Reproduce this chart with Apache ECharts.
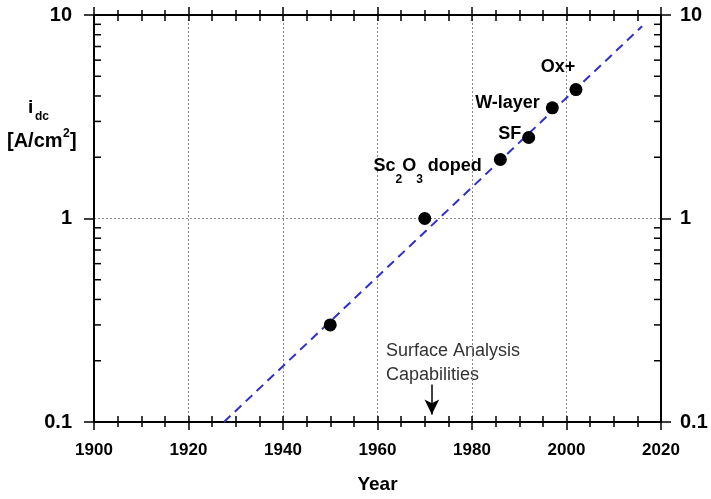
<!DOCTYPE html>
<html>
<head>
<meta charset="utf-8">
<script src="https://cdn.jsdelivr.net/npm/echarts@6/dist/echarts.min.js"></script>
<style>
  html, body { margin: 0; padding: 0; background: #fff; }
  #chart { width: 711px; height: 499px; }
</style>
</head>
<body>
<div id="chart"></div>
<script>
// Emission current density history
const years = [1950, 1970, 1986, 1992, 1997, 2002];
const idc = [0.30, 1.0, 1.95, 2.5, 3.5, 4.3];
const pointNames = ['', '', 'Sc2O3 doped', 'SF', 'W-layer', 'Ox+'];

// dashed trend line end points
const trendYears = [1927.5, 2016];
const trendIdc = [0.1, 8.8];

// axes
const xMin = 1900, xMax = 2020, xStep = 20;
const yTickValues = [0.1, 1, 10];
const yTickLabels = ['0.1', '1', '10'];
const yMinorValues = [0.2, 0.3, 0.4, 0.5, 0.6, 0.7, 0.8, 0.9, 2, 3, 4, 5, 6, 7, 8, 9];

// annotation arrow
const arrowYear = 1971.5;
const arrowFrom = 0.153;
const arrowTo = 0.109;
const annotationLines = ['Surface Analysis', 'Capabilities'];

const FONT = '"Liberation Sans", Arial, sans-serif';

// label placement per point
const labelStyles = [
  null,
  null,
  { position: 'left', distance: 12, offset: [0, 7] },
  { position: 'left', distance: 1, offset: [0, -3] },
  { position: 'left', distance: 6, offset: [0, -5] },
  { position: 'top', distance: 7, offset: [-18, 0] }
];

const richMain = { fontFamily: FONT, fontWeight: 'bold', fontSize: 18, color: '#000', lineHeight: 38, verticalAlign: 'middle' };
const richSub = { fontFamily: FONT, fontWeight: 'bold', fontSize: 12, color: '#000', lineHeight: 12, verticalAlign: 'bottom' };

function labelText(name) {
  if (name === 'Sc2O3 doped') return '{m|Sc}{s|2}{m|O}{s|3}{m| doped}';
  return '{n|' + name + '}';
}

const pointData = years.map((y, i) => {
  const item = { value: [y, idc[i]] };
  if (pointNames[i]) {
    const ls = labelStyles[i];
    item.label = {
      show: true,
      position: ls.position,
      distance: ls.distance,
      offset: ls.offset,
      formatter: labelText(pointNames[i]),
      rich: {
        m: richMain,
        s: richSub,
        n: { fontFamily: FONT, fontWeight: 'bold', fontSize: 18, color: '#000' }
      }
    };
  }
  return item;
});

const trendData = trendYears.map((y, i) => [y, trendIdc[i]]);

const tickLabelStyle = { fontFamily: FONT, fontWeight: 'bold', fontSize: 17, color: '#000' };
const axisLineStyle = { color: '#000', width: 2 };

function xAxisPart(position, inside, withLine, withLabel) {
  return {
    type: 'value', position: position, min: xMin, max: xMax, interval: xStep,
    axisLine: { show: withLine, onZero: false, lineStyle: axisLineStyle },
    axisTick: { show: true, inside: inside, length: inside ? 6 : 8, lineStyle: { color: '#000', width: 1.5 } },
    minorTick: { show: true, splitNumber: 4, length: inside ? 6 : 5, lineStyle: { color: '#000', width: 1.5 } },
    axisLabel: withLabel ? Object.assign({ margin: 20, formatter: v => String(v) }, tickLabelStyle) : { show: false },
    splitLine: withLabel ? { show: true, lineStyle: { type: [2, 2], color: '#8a8a8a', width: 1 } } : { show: false },
    name: withLabel ? 'Year' : '',
    nameLocation: 'middle',
    nameGap: 53,
    nameTextStyle: { fontFamily: FONT, fontWeight: 'bold', fontSize: 19, color: '#000' }
  };
}

function yAxisPart(position, withSplit) {
  return {
    type: 'log', logBase: 10, position: position, min: yTickValues[0], max: yTickValues[yTickValues.length - 1],
    axisLine: { show: true, onZero: false, lineStyle: axisLineStyle },
    axisTick: { show: true, inside: false, length: 10, lineStyle: { color: '#000', width: 1.5 } },
    axisLabel: Object.assign({
      margin: position === 'left' ? 22 : 19,
      fontSize: 20,
      formatter: v => yTickLabels[Math.round(Math.log10(v)) + 1]
    }, { fontFamily: FONT, fontWeight: 'bold', color: '#000' }),
    splitLine: withSplit ? { show: true, lineStyle: { type: [2, 2], color: '#8a8a8a', width: 1 } } : { show: false }
  };
}

const chart = echarts.init(document.getElementById('chart'), null, { renderer: 'canvas' });

chart.setOption({
  animation: false,
  backgroundColor: '#fff',
  grid: { left: 94, right: 50, top: 15, bottom: 76, containLabel: false },
  xAxis: [
    xAxisPart('bottom', false, true, true),
    xAxisPart('bottom', true, false, false),
    xAxisPart('top', false, true, false),
    xAxisPart('top', true, false, false)
  ],
  yAxis: [
    yAxisPart('left', true),
    yAxisPart('right', false)
  ],
  graphic: [
    { type: 'text', left: 28, top: 98, style: { text: 'i', font: 'bold 19px ' + FONT, fill: '#000' } },
    { type: 'text', left: 35, top: 111, style: { text: 'dc', font: 'bold 12px ' + FONT, fill: '#000' } },
    { type: 'text', left: 7, top: 131, style: { text: '[A/cm', font: 'bold 20px ' + FONT, fill: '#000' } },
    { type: 'text', left: 63, top: 128, style: { text: '2', font: 'bold 12px ' + FONT, fill: '#000' } },
    { type: 'text', left: 70, top: 131, style: { text: ']', font: 'bold 20px ' + FONT, fill: '#000' } },
    { type: 'text', left: 386, top: 339, style: { text: annotationLines.join('\n'), font: '18px ' + FONT, fill: '#333', lineHeight: 24 } }
  ],
  series: [
    {
      type: 'line', xAxisIndex: 0, yAxisIndex: 0, data: trendData,
      symbol: 'none', z: 2,
      lineStyle: { color: '#3030c8', width: 2, type: [9, 6] },
      markLine: {
        silent: true, symbol: ['none', 'arrow'], symbolSize: [11, 15],
        lineStyle: { color: '#000', width: 1.5, type: 'solid' },
        label: { show: false },
        data: [[{ coord: [arrowYear, arrowFrom] }, { coord: [arrowYear, arrowTo] }]]
      }
    },
    {
      type: 'scatter', xAxisIndex: 0, yAxisIndex: 0, data: pointData,
      symbol: 'circle', symbolSize: 13, z: 3,
      itemStyle: { color: '#000', opacity: 1 }
    },
    {
      // minor log ticks on the left and right frame
      type: 'custom', xAxisIndex: 0, yAxisIndex: 0, silent: true, z: 4,
      data: yMinorValues.map(v => [xMin, v]),
      renderItem: function (params, api) {
        const left = api.coord([xMin, api.value(1)]);
        const right = api.coord([xMax, api.value(1)]);
        const st = { stroke: '#000', lineWidth: 1.5 };
        return {
          type: 'group',
          children: [
            { type: 'line', shape: { x1: left[0], y1: left[1], x2: left[0] + 7, y2: left[1] }, style: st },
            { type: 'line', shape: { x1: right[0] - 7, y1: right[1], x2: right[0], y2: right[1] }, style: st }
          ]
        };
      }
    }
  ]
});
</script>
</body>
</html>
